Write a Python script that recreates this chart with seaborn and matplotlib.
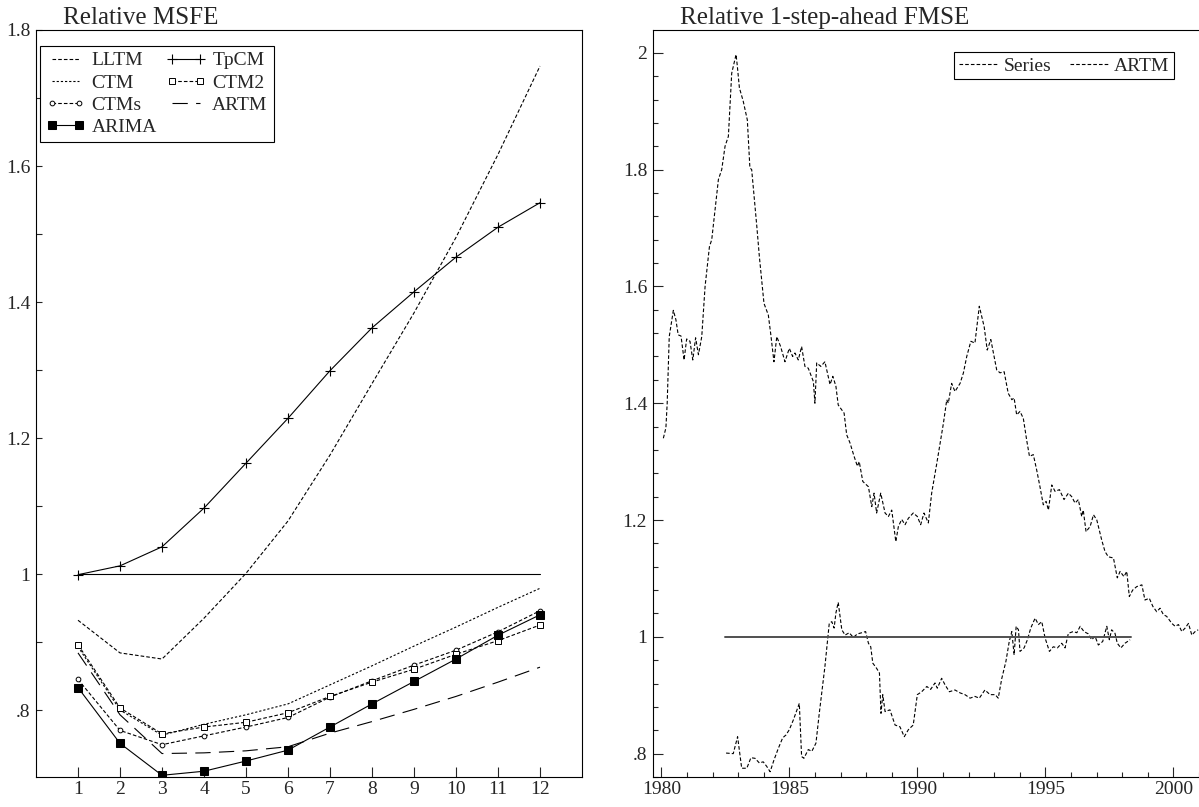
import matplotlib
matplotlib.use("Agg")
import matplotlib.pyplot as plt
import seaborn as sns
from matplotlib.ticker import MultipleLocator, FuncFormatter, FixedLocator

# ---------------- data: left panel (Relative MSFE) ----------------
horizon = [1, 2, 3, 4, 5, 6, 7, 8, 9, 10, 11, 12]
lltm = [0.932, 0.884, 0.875, 0.935, 1.001, 1.078, 1.175, 1.280, 1.384, 1.495, 1.617, 1.747]
tpcm = [0.999, 1.012, 1.040, 1.097, 1.163, 1.229, 1.299, 1.362, 1.415, 1.466, 1.510, 1.546]
ctm = [0.893, 0.800, 0.763, 0.779, 0.793, 0.809, 0.837, 0.865, 0.894, 0.922, 0.951, 0.979]
ctm2 = [0.896, 0.803, 0.765, 0.775, 0.782, 0.796, 0.820, 0.841, 0.860, 0.882, 0.902, 0.925]
ctms = [0.845, 0.770, 0.749, 0.762, 0.775, 0.789, 0.819, 0.843, 0.866, 0.888, 0.915, 0.946]
artm = [0.884, 0.793, 0.736, 0.737, 0.740, 0.746, 0.766, 0.783, 0.801, 0.820, 0.841, 0.863]
arima = [0.833, 0.751, 0.704, 0.710, 0.725, 0.741, 0.775, 0.809, 0.842, 0.875, 0.910, 0.940]
ref_left_x = [1, 12]
ref_left_y = [1.0, 1.0]

# ---------------- data: right panel (Relative 1-step-ahead FMSE) ----------------
series_year = [1980.08, 1980.18, 1980.23, 1980.31, 1980.47, 1980.57, 1980.66, 1980.77, 1980.89, 1980.99,
               1981.12, 1981.23, 1981.34, 1981.45, 1981.58, 1981.71, 1981.88, 1981.97, 1982.10, 1982.23,
               1982.36, 1982.49, 1982.62, 1982.75, 1982.92, 1982.97, 1983.05, 1983.20, 1983.36, 1983.46,
               1983.53, 1983.73, 1983.83, 1984.01, 1984.18, 1984.27, 1984.40, 1984.51, 1984.66, 1984.83,
               1985.00, 1985.13, 1985.22, 1985.35, 1985.48, 1985.61, 1985.74, 1985.94, 1986.00, 1986.07,
               1986.23, 1986.39, 1986.59, 1986.70, 1986.82, 1986.91, 1987.14, 1987.24, 1987.37, 1987.53,
               1987.66, 1987.73, 1987.87, 1988.09, 1988.22, 1988.31, 1988.41, 1988.57, 1988.74, 1988.87,
               1989.00, 1989.16, 1989.26, 1989.39, 1989.52, 1989.65, 1989.84, 1990.00, 1990.13, 1990.26,
               1990.43, 1990.56, 1990.76, 1990.89, 1991.02, 1991.15, 1991.21, 1991.34, 1991.47, 1991.67,
               1991.80, 1991.93, 1992.09, 1992.25, 1992.42, 1992.61, 1992.73, 1992.87, 1993.10, 1993.23,
               1993.39, 1993.55, 1993.69, 1993.78, 1993.88, 1994.01, 1994.14, 1994.27, 1994.38, 1994.53,
               1994.66, 1994.79, 1994.92, 1995.03, 1995.12, 1995.25, 1995.38, 1995.55, 1995.73, 1995.90,
               1996.03, 1996.16, 1996.29, 1996.42, 1996.48, 1996.59, 1996.75, 1996.88, 1997.01, 1997.20,
               1997.33, 1997.46, 1997.66, 1997.81, 1997.92, 1998.07, 1998.18, 1998.28, 1998.41, 1998.57,
               1998.77, 1998.89, 1999.06, 1999.20, 1999.35, 1999.48, 1999.61, 1999.74, 1999.94, 2000.07,
               2000.20, 2000.33, 2000.46, 2000.59, 2000.72, 2000.85, 2000.97]
series_val = [1.340, 1.358, 1.400, 1.514, 1.559, 1.543, 1.517, 1.515, 1.474, 1.510,
              1.506, 1.474, 1.512, 1.483, 1.514, 1.600, 1.668, 1.680, 1.731, 1.783,
              1.800, 1.840, 1.857, 1.965, 1.997, 1.977, 1.940, 1.917, 1.885, 1.803,
              1.800, 1.703, 1.651, 1.571, 1.551, 1.520, 1.471, 1.514, 1.497, 1.471,
              1.494, 1.480, 1.486, 1.474, 1.497, 1.463, 1.460, 1.437, 1.400, 1.469,
              1.463, 1.471, 1.432, 1.446, 1.429, 1.397, 1.383, 1.346, 1.332, 1.309,
              1.292, 1.300, 1.266, 1.257, 1.223, 1.246, 1.212, 1.246, 1.212, 1.206,
              1.217, 1.163, 1.189, 1.201, 1.192, 1.203, 1.212, 1.206, 1.192, 1.212,
              1.195, 1.246, 1.297, 1.332, 1.366, 1.406, 1.400, 1.434, 1.420, 1.434,
              1.452, 1.480, 1.506, 1.503, 1.566, 1.531, 1.491, 1.509, 1.457, 1.452,
              1.454, 1.417, 1.406, 1.409, 1.380, 1.386, 1.374, 1.337, 1.309, 1.312,
              1.286, 1.257, 1.226, 1.232, 1.217, 1.260, 1.249, 1.252, 1.235, 1.246,
              1.240, 1.229, 1.235, 1.206, 1.217, 1.180, 1.189, 1.209, 1.200, 1.166,
              1.146, 1.137, 1.135, 1.101, 1.112, 1.103, 1.112, 1.069, 1.080, 1.086,
              1.089, 1.063, 1.066, 1.052, 1.043, 1.049, 1.038, 1.035, 1.023, 1.018,
              1.021, 1.009, 1.015, 1.023, 1.003, 1.009, 1.012]
artm_year = [1982.53, 1982.81, 1982.98, 1983.14, 1983.34, 1983.50, 1983.66, 1983.83, 1983.98, 1984.12,
             1984.25, 1984.40, 1984.57, 1984.74, 1984.87, 1985.00, 1985.16, 1985.39, 1985.48, 1985.57,
             1985.74, 1985.88, 1986.04, 1986.17, 1986.39, 1986.56, 1986.66, 1986.75, 1986.82, 1986.91,
             1987.05, 1987.18, 1987.34, 1987.50, 1987.66, 1987.83, 1987.98, 1988.09, 1988.18, 1988.26,
             1988.41, 1988.52, 1988.58, 1988.65, 1988.74, 1988.93, 1989.13, 1989.32, 1989.49, 1989.65,
             1989.84, 1990.00, 1990.17, 1990.37, 1990.52, 1990.69, 1990.78, 1990.95, 1991.08, 1991.25,
             1991.47, 1991.67, 1991.86, 1992.06, 1992.25, 1992.42, 1992.64, 1992.84, 1993.04, 1993.16,
             1993.30, 1993.46, 1993.59, 1993.69, 1993.78, 1993.86, 1993.95, 1994.01, 1994.17, 1994.30,
             1994.43, 1994.60, 1994.73, 1994.86, 1994.99, 1995.16, 1995.31, 1995.47, 1995.64, 1995.77,
             1995.90, 1996.09, 1996.23, 1996.36, 1996.51, 1996.68, 1996.81, 1996.94, 1997.07, 1997.24,
             1997.40, 1997.50, 1997.59, 1997.72, 1997.81, 1997.95, 1998.11, 1998.31]
artm_val = [0.801, 0.800, 0.829, 0.775, 0.775, 0.793, 0.792, 0.784, 0.786, 0.778,
            0.769, 0.789, 0.809, 0.827, 0.832, 0.841, 0.858, 0.886, 0.795, 0.792,
            0.807, 0.804, 0.818, 0.869, 0.949, 1.023, 1.026, 1.015, 1.041, 1.059,
            1.012, 1.003, 1.007, 0.999, 1.005, 1.007, 1.009, 0.989, 0.983, 0.955,
            0.946, 0.938, 0.869, 0.901, 0.872, 0.875, 0.849, 0.846, 0.829, 0.841,
            0.849, 0.901, 0.906, 0.915, 0.910, 0.921, 0.912, 0.929, 0.918, 0.906,
            0.909, 0.904, 0.901, 0.895, 0.898, 0.895, 0.909, 0.901, 0.901, 0.895,
            0.929, 0.958, 0.992, 1.009, 0.969, 1.018, 1.012, 0.975, 0.981, 0.995,
            1.015, 1.032, 1.021, 1.026, 0.998, 0.975, 0.983, 0.981, 0.989, 0.981,
            1.006, 1.009, 1.007, 1.018, 1.009, 1.005, 0.995, 1.001, 0.986, 0.992,
            1.018, 0.995, 1.012, 1.006, 0.989, 0.981, 0.989, 0.995]
ref_right_x = [1982.50, 1998.35]
ref_right_y = [1.0, 1.0]

# ---------------- style ----------------
sns.set_style("ticks")
plt.rcParams['font.family'] = ['Liberation Serif', 'DejaVu Serif']
plt.rcParams['lines.scale_dashes'] = False
plt.rcParams['axes.linewidth'] = 0.8
plt.rcParams['axes.edgecolor'] = 'black'

FS = 14
W, H = 1199, 807
fig = plt.figure(figsize=(W / 100, H / 100), dpi=100)

def frac(x0, y0, x1, y1):
    return [x0 / W, 1 - y1 / H, (x1 - x0) / W, (y1 - y0) / H]

ax1 = fig.add_axes(frac(36, 30, 582, 777))
ax2 = fig.add_axes(frac(652.7, 30, 1200.5, 777))

def fmt(v, pos=None):
    s = "%g" % round(v, 6)
    if s.startswith("0."):
        s = s[1:]
    return s

lw = 0.8
short_dash = (0, (2.6, 1.5))
fine_dash = (0, (1.6, 1.4))
long_dash = (0, (11, 6))

common = dict(ax=ax1, color='black', estimator=None, sort=False, linewidth=lw)
sns.lineplot(x=horizon, y=lltm, linestyle=short_dash, label='LLTM', **common)
sns.lineplot(x=horizon, y=ctm, linestyle=fine_dash, label='CTM', **common)
sns.lineplot(x=horizon, y=ctms, linestyle=short_dash, marker='o', markersize=3.4,
             markerfacecolor='white', markeredgecolor='black', markeredgewidth=0.7,
             label='CTMs', **common)
sns.lineplot(x=ref_left_x, y=ref_left_y, linestyle='-', **common)
sns.lineplot(x=horizon, y=tpcm, linestyle='-', marker='+', markersize=7,
             markeredgewidth=0.8, markeredgecolor='black', label='TpCM', **common)
sns.lineplot(x=horizon, y=ctm2, linestyle=short_dash, marker='s', markersize=5.0,
             markerfacecolor='white', markeredgecolor='black', markeredgewidth=0.7,
             label='CTM2', **common)
sns.lineplot(x=horizon, y=artm, linestyle=long_dash, label='ARTM', **common)
sns.lineplot(x=horizon, y=arima, linestyle='-', marker='s', markersize=5.6,
             markerfacecolor='black', markeredgecolor='black', label='ARIMA', **common)

ax1.set_xlim(0, 13)
ax1.set_ylim(0.7015, 1.8)
ax1.xaxis.set_major_locator(FixedLocator(horizon))
ax1.yaxis.set_major_locator(MultipleLocator(0.2))
ax1.yaxis.set_minor_locator(MultipleLocator(0.1))
ax1.yaxis.set_major_formatter(FuncFormatter(fmt))
ax1.tick_params(axis='x', which='major', direction='in', length=7.2, width=0.8,
                labelsize=FS, pad=3)
ax1.tick_params(axis='y', which='both', direction='in', length=4, width=0.8,
                labelsize=FS, pad=4)
ax1.set_xlabel('')
ax1.set_ylabel('')
for s in ax1.spines.values():
    s.set_visible(True)
    s.set_linewidth(0.8)

lines = {l.get_label(): l for l in ax1.get_lines()}
order = ['LLTM', 'CTM', 'CTMs', 'ARIMA', 'TpCM', 'CTM2', 'ARTM']
leg1 = ax1.legend([lines[k] for k in order], order, ncol=2, loc='upper left',
                  bbox_to_anchor=(0.0073, 0.9786), borderaxespad=0, fontsize=FS,
                  numpoints=2, handlelength=2.0, handletextpad=0.35,
                  columnspacing=0.5, labelspacing=0.23, borderpad=0.3,
                  fancybox=False, framealpha=1, edgecolor='black')
leg1.get_frame().set_linewidth(0.8)

# ---------------- right panel ----------------
c2 = dict(ax=ax2, color='black', estimator=None, sort=False, linewidth=lw)
sns.lineplot(x=series_year, y=series_val, linestyle=short_dash, label='Series', **c2)
sns.lineplot(x=artm_year, y=artm_val, linestyle=short_dash, label='ARTM', **c2)
sns.lineplot(x=ref_right_x, y=ref_right_y, ax=ax2, color='#505050', linewidth=1.4,
             estimator=None, sort=False)

ax2.set_xlim(1979.664, 2001.06)
ax2.set_ylim(0.760, 2.039)
ax2.xaxis.set_major_locator(MultipleLocator(5))
ax2.xaxis.set_minor_locator(MultipleLocator(1))
ax2.xaxis.set_major_formatter(FuncFormatter(lambda v, p: "%d" % round(v)))
ax2.yaxis.set_major_locator(MultipleLocator(0.2))
ax2.yaxis.set_minor_locator(MultipleLocator(0.04))
ax2.yaxis.set_major_formatter(FuncFormatter(fmt))
ax2.tick_params(which='major', direction='in', length=7.2, width=0.8, labelsize=FS)
ax2.tick_params(which='minor', direction='in', length=3.8, width=0.8)
ax2.tick_params(axis='x', which='major', pad=3)
ax2.tick_params(axis='y', which='major', pad=4)
ax2.set_xlabel('')
ax2.set_ylabel('')
for s in ax2.spines.values():
    s.set_visible(True)
    s.set_linewidth(0.8)

l2 = {l.get_label(): l for l in ax2.get_lines()}
leg2 = ax2.legend([l2['Series'], l2['ARTM']], ['Series', 'ARTM'], ncol=2,
                  loc='upper right', bbox_to_anchor=(0.9525, 0.9705), borderaxespad=0,
                  fontsize=FS, handlelength=2.0, handletextpad=0.3, columnspacing=0.95,
                  borderpad=0.25, fancybox=False, framealpha=1, edgecolor='black')
leg2.get_frame().set_linewidth(0.8)

# titles
ax1.text(0.0495, 1.008, 'Relative MSFE', transform=ax1.transAxes, fontsize=18,
         ha='left', va='baseline')
ax2.text(0.050, 1.008, 'Relative 1-step-ahead FMSE', transform=ax2.transAxes, fontsize=18,
         ha='left', va='baseline')

fig.savefig('out.png', dpi=100)
